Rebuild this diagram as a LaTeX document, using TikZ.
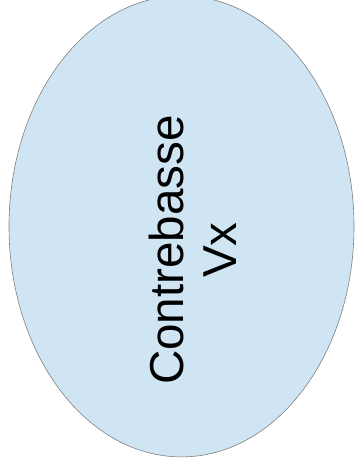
\documentclass[tikz,border=0pt]{standalone}
\usepackage{fontspec}
\setmainfont{Liberation Sans}
\usepackage{xcolor}
\usetikzlibrary{shapes.geometric,calc}
\definecolor{bassfill}{RGB}{207,229,243}
\definecolor{bassline}{RGB}{128,128,128}

\begin{document}
\begin{tikzpicture}[x=1pt,y=1pt]
  \tikzstyle{instrument}=[ellipse,draw=bassline,line width=0.6pt,fill=bassfill,inner sep=0pt,minimum width=345pt,minimum height=461pt]
  \tikzstyle{label}=[rotate=90,align=center,inner sep=0pt,font=\fontsize{47.6}{53}\selectfont]
  \useasboundingbox (0,0) rectangle (355,470);
  \node[instrument] (bass) at (181.5,243.6) {};
  \node[label] (name) at ($(bass.center)+(11.5,-23.6)$) {Contrebasse\\Vx};
\end{tikzpicture}
\end{document}
